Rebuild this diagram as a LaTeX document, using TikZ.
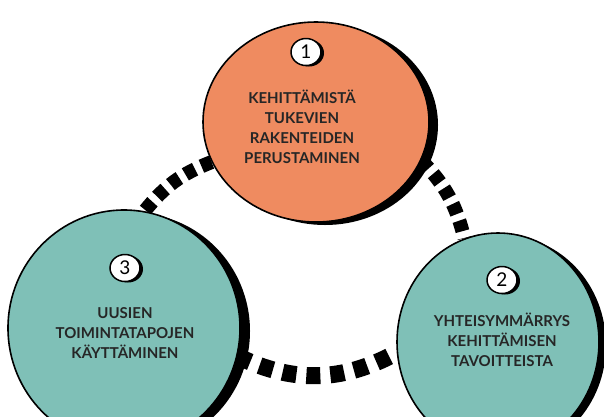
\documentclass[tikz,border=0pt]{standalone}
\usepackage{fontspec}
\setmainfont{Lato}
\usepackage{tikz}
\usetikzlibrary{
	shapes.geometric,
	shadows,
	backgrounds,
	positioning
}
\definecolor{oranssi}{RGB}{239,139,96}
\definecolor{turkoosi}{RGB}{127,192,183}
\tikzset{
	pallo/.style={
		ellipse,
		draw=black,
		line width=1.6pt,
		inner sep=0pt
	},
	varjo/.style={
		drop shadow={shadow xshift=#1, shadow yshift=-3pt, fill=black, opacity=1}
	},
	numero/.style={
		ellipse,
		draw=black,
		fill=white,
		line width=1.5pt,
		minimum width=30pt,
		minimum height=27pt,
		inner sep=0pt,
		font=\fontsize{19}{19}\selectfont,
		drop shadow={shadow xshift=3pt, shadow yshift=-1pt, fill=black, opacity=1}
	},
	teksti/.style={
		align=center,
		font=\fontsize{15}{20}\selectfont\bfseries,
		text=black!85
	},
	linkki/.style={
		line width=14pt,
		dash pattern=on 11pt off 7pt
	}
}

\begin{document}
\begin{tikzpicture}[x=1pt,y=-1pt]
	\path[use as bounding box, clip] (0,0) rectangle (604,416);

	% pallot
	\node[pallo, varjo=9pt, fill=oranssi, minimum width=226pt, minimum height=200pt] (rakenteet) at (316,122) {};
	\node[pallo, varjo=10pt, fill=turkoosi, minimum width=232pt, minimum height=236pt] (toimintatavat) at (124,328) {};
	\node[pallo, varjo=7pt, fill=turkoosi, minimum width=202pt, minimum height=218pt] (tavoitteet) at (498,342) {};

	% numerot
	\node[numero] (n1) at (306,52) {1};
	\node[numero] (n2) at (502,280) {2};
	\node[numero] (n3) at (125,268) {3};

	% tekstit
	\node[teksti] (t1) at (302,127) {KEHITTÄMISTÄ\\TUKEVIEN\\RAKENTEIDEN\\PERUSTAMINEN};
	\node[teksti] (t2) at (502,340) {YHTEISYMMÄRRYS\\KEHITTÄMISEN\\TAVOITTEISTA};
	\node[teksti] (t3) at (125,333) {UUSIEN\\TOIMINTATAPOJEN\\KÄYTTÄMINEN};

	% yhteydet
	\begin{scope}[on background layer]
		\draw[linkki] (rakenteet.201) to[bend right=15] (toimintatavat.80);
		\draw[linkki] (rakenteet.340) to[bend left=15] (tavoitteet.108);
		\draw[linkki, line width=17pt, dash pattern=on 14pt off 10pt]
			(toimintatavat.346) to[bend right=27] (tavoitteet.186);
	\end{scope}
\end{tikzpicture}
\end{document}
